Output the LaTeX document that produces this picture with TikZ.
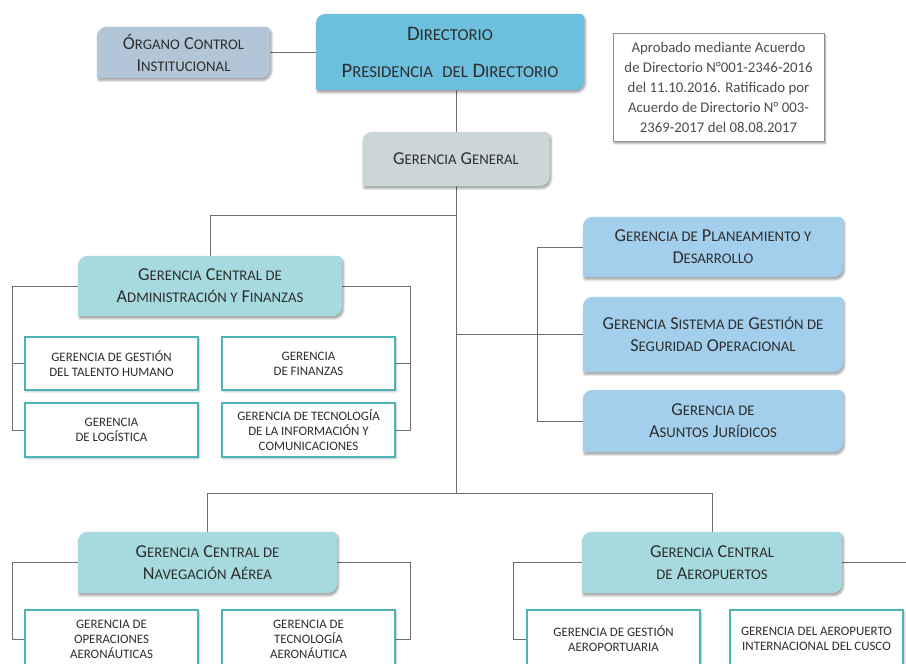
\documentclass[tikz,border=0pt]{standalone}
\usepackage{fontspec}
\setmainfont{Carlito}
\usetikzlibrary{backgrounds,shadows.blur,calc}
\definecolor{cOrg}{HTML}{B3C6D8}
\definecolor{cDir}{HTML}{6CC0DD}
\definecolor{cGG}{HTML}{CCD6D9}
\definecolor{cTeal}{HTML}{A6DADF}
\definecolor{cBlue}{HTML}{A3CFEC}
\definecolor{cBorder}{HTML}{4BB5B5}
\definecolor{cLine}{HTML}{6E6E6E}
\definecolor{cTxt}{HTML}{2E2E2E}
\makeatletter
\newcommand\sm[1]{{\fontsize{\fpeval{0.81*\f@size}}{\f@baselineskip}\selectfont\MakeUppercase{#1}}}
\makeatother
\newcommand\bgbox[2]{\fill[#2, blur shadow={shadow xshift=1.5pt,shadow yshift=-2.5pt,shadow blur steps=6,shadow opacity=35}] (#1.south west) -- ([yshift=-10pt]#1.north west) arc[start angle=180,end angle=90,radius=10pt] -- ([xshift=-4pt]#1.north east) arc[start angle=90,end angle=0,radius=4pt] -- ([yshift=10pt]#1.south east) arc[start angle=0,end angle=-90,radius=10pt] -- cycle;}
\tikzset{
  big/.style={text=cTxt, align=center, inner sep=0pt, font=\fontsize{18.2}{22}\selectfont},
  sub/.style={draw=cBorder, line width=1.6pt, fill=white, text=cTxt, align=center, inner sep=0pt,
    font=\fontsize{12.9}{15}\selectfont, minimum width=173pt, minimum height=53pt,
    blur shadow={shadow xshift=1pt,shadow yshift=-1.5pt,shadow blur steps=4,shadow opacity=30}},
  note/.style={draw=black!45, line width=0.8pt, fill=white, text=black!70, align=center, inner sep=0pt,
    font=\fontsize{14.8}{20}\selectfont, minimum width=211pt, minimum height=108pt,
    blur shadow={shadow xshift=1.5pt,shadow yshift=-2.5pt,shadow blur steps=5,shadow opacity=35}},
  conn/.style={draw=cLine, line width=0.8pt}
}
\begin{document}
\begin{tikzpicture}[x=1pt,y=-1pt]
\useasboundingbox (0,0) rectangle (906,664);
% top
\node[big, minimum width=173pt, minimum height=51pt] (org) at (183.5,52.5) {Ó\sm{rgano} C\sm{ontrol}\\I\sm{nstitucional}};
\node[big, font=\fontsize{20.6}{37}\selectfont, minimum width=268pt, minimum height=76pt] (dir) at (450,52) {D\sm{irectorio}\\P\sm{residencia}\ \ \sm{del} D\sm{irectorio}};
\node[note] (note) at (718.5,87) {Aprobado mediante Acuerdo\\de Directorio N°001-2346-2016\\del 11.10.2016. Ratificado por\\Acuerdo de Directorio N° 003-\\2369-2017 del 08.08.2017};
\node[big, minimum width=187pt, minimum height=54pt] (gg) at (456,159) {G\sm{erencia} G\sm{eneral}};
% administracion
\node[big, minimum width=264pt, minimum height=60pt] (gcaf) at (210,286) {G\sm{erencia} C\sm{entral de}\\A\sm{dministración y} F\sm{inanzas}};
\node[sub] (th) at (111.5,363.5) {GERENCIA DE GESTIÓN\\DEL TALENTO HUMANO};
\node[sub] (fin) at (308.5,363.5) {GERENCIA\\DE FINANZAS};
\node[sub, minimum height=54pt] (log) at (111.5,430) {GERENCIA\\DE LOGÍSTICA};
\node[sub, minimum height=54pt] (tic) at (308.5,430) {GERENCIA DE TECNOLOGÍA\\DE LA INFORMACIÓN Y\\COMUNICACIONES};
% right column
\node[big, minimum width=260pt, minimum height=60pt] (plan) at (713,247) {G\sm{erencia de} P\sm{laneamiento y}\\D\sm{esarrollo}};
\node[big, minimum width=260pt, minimum height=75pt] (seg) at (713,334.5) {G\sm{erencia} S\sm{istema de} G\sm{estión de}\\S\sm{eguridad} O\sm{peracional}};
\node[big, minimum width=260pt, minimum height=62pt] (asj) at (713,421) {G\sm{erencia de}\\A\sm{suntos} J\sm{urídicos}};
% bottom
\node[big, minimum width=259pt, minimum height=61pt] (gcna) at (207.5,562.5) {G\sm{erencia} C\sm{entral de}\\N\sm{avegación} A\sm{érea}};
\node[big, minimum width=260pt, minimum height=61pt] (gcap) at (712,562.5) {G\sm{erencia} C\sm{entral}\\\sm{de} A\sm{eropuertos}};
\node[sub, minimum height=58pt] (ope) at (111.5,639) {GERENCIA DE\\OPERACIONES\\AERONÁUTICAS};
\node[sub, minimum height=58pt] (tae) at (308.5,639) {GERENCIA DE\\TECNOLOGÍA\\AERONÁUTICA};
\node[sub, minimum height=58pt] (gea) at (613.5,639) {GERENCIA DE GESTIÓN\\AEROPORTUARIA};
\node[sub, minimum height=58pt] (cus) at (816.5,639) {GERENCIA DEL AEROPUERTO\\INTERNACIONAL DEL CUSCO};
% helper coordinates
\coordinate (h1) at (0,215);
\coordinate (h2) at (537,332);
\coordinate (h3) at (0,493);
\coordinate (lx) at (12,0);
\coordinate (rx) at (410,0);
\coordinate (gx) at (513,0);
\coordinate (edge) at (910,0);
\begin{scope}[on background layer]
\draw[conn] (org.east) -- (org.east -| dir.west);
\draw[conn] (dir.south -| gg.north) -- (gg.north);
\draw[conn] (gg.south) -- (gg.south |- h3);
\draw[conn] (gg.south |- h1) -| (gcaf.north);
\draw[conn] (gg.south |- seg.west) -- (seg.west);
\draw[conn] (plan.west) -- (plan.west -| h2) -- (asj.west -| h2) -- (asj.west);
\draw[conn] (gcna.north) |- (h3 -| gcap.north) -- (gcap.north);
\draw[conn] (gcaf.west) -| (lx |- log.west) -- (log.west);
\draw[conn] (th.west) -- (th.west -| lx);
\draw[conn] (gcaf.east) -| (rx |- tic.east) -- (tic.east);
\draw[conn] (fin.east) -- (fin.east -| rx);
\draw[conn] (gcna.west) -| (lx |- ope.west) -- (ope.west);
\draw[conn] (gcna.east) -| (rx |- tae.east) -- (tae.east);
\draw[conn] (gcap.west) -| (gx |- gea.west) -- (gea.west);
\draw[conn] (gcap.east) -- (gcap.east -| edge);
\bgbox{org}{cOrg}
\bgbox{dir}{cDir}
\bgbox{gg}{cGG}
\bgbox{gcaf}{cTeal}
\bgbox{plan}{cBlue}
\bgbox{seg}{cBlue}
\bgbox{asj}{cBlue}
\bgbox{gcna}{cTeal}
\bgbox{gcap}{cTeal}
\end{scope}
\end{tikzpicture}
\end{document}
